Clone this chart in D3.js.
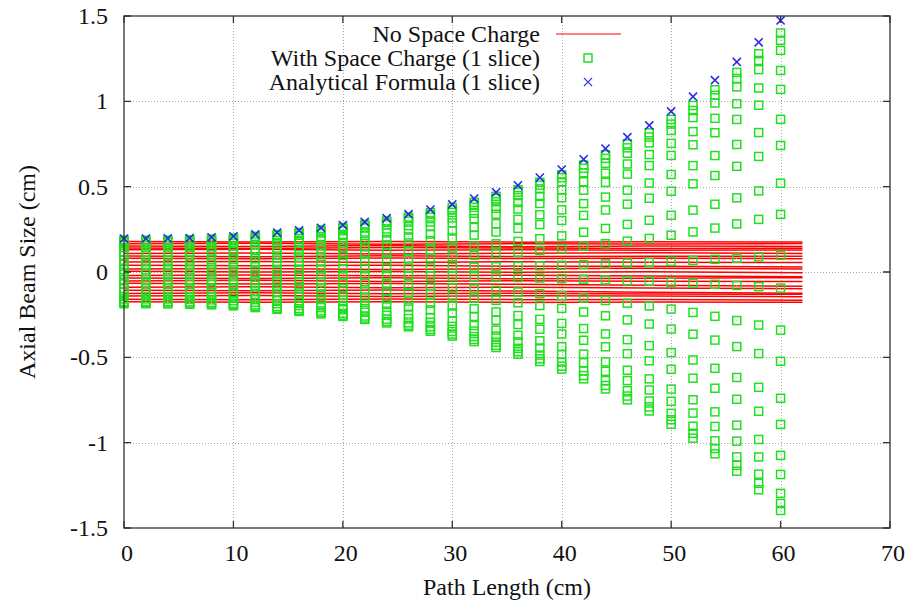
<!DOCTYPE html>
<html>
<head>
<meta charset="utf-8">
<script src="https://cdn.jsdelivr.net/npm/d3@7"></script>
<style>
    body { margin: 0; background: #fff; }
    text { font-family: "Liberation Serif", "Times New Roman", serif; fill: #111; }
</style>
</head>
<body>
<script>

// x ticks and y ticks of the plot
const xTicks = [0, 10, 20, 30, 40, 50, 60, 70];
const yTicks = [-1.5, -1, -0.5, 0, 0.5, 1, 1.5];

// no space charge: sample points along the path and particle positions
const driftX = [0, 12, 24, 36, 48, 62];
const driftY = [
    [0.178, 0.176, 0.179, 0.175, 0.177, 0.176],
    [0.165, 0.168, 0.162, 0.166, 0.164, 0.167],
    [0.152, 0.150, 0.155, 0.148, 0.152, 0.150],
    [0.141, 0.138, 0.143, 0.140, 0.137, 0.139],
    [0.130, 0.134, 0.128, 0.131, 0.127, 0.129],
    [0.109, 0.112, 0.106, 0.110, 0.113, 0.108],
    [0.094, 0.090, 0.095, 0.091, 0.093, 0.092],
    [0.080, 0.078, 0.082, 0.079, 0.081, 0.078],
    [0.058, 0.062, 0.056, 0.060, 0.057, 0.055],
    [0.039, 0.036, 0.040, 0.034, 0.033, 0.030],
    [0.018, 0.020, 0.015, 0.019, 0.022, 0.018],
    [0.004, 0.000, 0.003, -0.002, 0.001, -0.005],
    [-0.020, -0.017, -0.022, -0.019, -0.024, -0.028],
    [-0.035, -0.038, -0.034, -0.040, -0.036, -0.033],
    [-0.052, -0.049, -0.055, -0.051, -0.054, -0.056],
    [-0.066, -0.070, -0.067, -0.072, -0.078, -0.084],
    [-0.090, -0.087, -0.092, -0.089, -0.094, -0.098],
    [-0.107, -0.110, -0.106, -0.112, -0.118, -0.125],
    [-0.126, -0.122, -0.128, -0.124, -0.129, -0.131],
    [-0.140, -0.138, -0.143, -0.139, -0.141, -0.145],
    [-0.160, -0.163, -0.158, -0.162, -0.161, -0.166],
    [-0.175, -0.177, -0.174, -0.178, -0.176, -0.177]
];

// with space charge / analytical formula: one column every 2 cm
const sliceX = [0, 2, 4, 6, 8, 10, 12, 14, 16, 18, 20, 22, 24, 26, 28, 30,
                32, 34, 36, 38, 40, 42, 44, 46, 48, 50, 52, 54, 56, 58, 60];

// analytical beam envelope (blue crosses)
const envelope = [0.196, 0.196, 0.197, 0.199, 0.203, 0.209, 0.220, 0.231,
                  0.244, 0.259, 0.275, 0.293, 0.315, 0.339, 0.366, 0.396,
                  0.430, 0.467, 0.508, 0.553, 0.600, 0.660, 0.723, 0.790,
                  0.859, 0.941, 1.027, 1.124, 1.231, 1.346, 1.474];

// particle positions relative to the envelope (read from the last column)
const particleFrac = [0.950, 0.921, 0.881, 0.801, 0.726, 0.607, 0.503, 0.353,
                      0.229, 0.066, -0.064, -0.231, -0.355, -0.502, -0.606,
                      -0.729, -0.805, -0.880, -0.920, -0.948];

const legendLabels = ["No Space Charge", "With Space Charge (1 slice)",
                      "Analytical Formula (1 slice)"];

window.onload = function() {
    makePlot();
};


/** Draws the beam size plot. */
function makePlot() {

    const width = 917;
    const height = 600;
    const left = 124, right = 890, top = 16, bottom = 528;
    const tickLen = 7;
    const fontSize = "24px";

    const green = "#1fe01f";
    const blue = "#2a2ae8";
    const red = "#ff0000";

    let xScale = d3.scaleLinear()
                   .domain([0, 70])
                   .range([left, right]);

    let yScale = d3.scaleLinear()
                   .domain([-1.5, 1.5])
                   .range([bottom, top]);

    let svg = d3.select("body")
                .append("svg")
                .attr("width", width)
                .attr("height", height);

    // grid lines
    let grid = svg.append("g")
                  .attr("stroke", "#a8a8a8")
                  .attr("stroke-width", 1)
                  .attr("stroke-dasharray", "1,2");

    grid.selectAll(".gx")
        .data(xTicks.slice(1, -1))
        .enter().append("line")
        .attr("x1", d => Math.round(xScale(d)) + 0.5)
        .attr("x2", d => Math.round(xScale(d)) + 0.5)
        .attr("y1", top)
        .attr("y2", bottom);

    grid.selectAll(".gy")
        .data(yTicks.slice(1, -1))
        .enter().append("line")
        .attr("y1", d => Math.round(yScale(d)) + 0.5)
        .attr("y2", d => Math.round(yScale(d)) + 0.5)
        .attr("x1", left)
        .attr("x2", right);

    // no space charge trajectories
    let line = d3.line()
                 .x((d, i) => xScale(driftX[i]))
                 .y(d => yScale(d));

    svg.append("g")
       .selectAll("path")
       .data(driftY)
       .enter().append("path")
       .attr("d", line)
       .attr("fill", "none")
       .attr("stroke", red)
       .attr("stroke-width", 1.5);

    // with space charge particles
    let particles = [];
    sliceX.forEach(function(x, i) {
        particleFrac.forEach(function(f) {
            particles.push([x, f * envelope[i]]);
        });
    });

    let squares = svg.append("g");
    squares.selectAll("rect")
           .data(particles)
           .enter().append("rect")
           .attr("x", d => xScale(d[0]) - 4)
           .attr("y", d => yScale(d[1]) - 4)
           .attr("width", 8)
           .attr("height", 8)
           .attr("fill", "none")
           .attr("stroke", green)
           .attr("stroke-width", 1.5);

    squares.selectAll(".dot")
           .data(particles)
           .enter().append("rect")
           .attr("class", "dot")
           .attr("x", d => xScale(d[0]) - 0.5)
           .attr("y", d => yScale(d[1]) - 0.5)
           .attr("width", 1)
           .attr("height", 1)
           .attr("fill", "#8be88b");

    // analytical formula crosses
    let cross = d3.symbol().type(d3.symbolX).size(45);
    svg.append("g")
       .selectAll("path")
       .data(sliceX)
       .enter().append("path")
       .attr("transform", (d, i) => "translate(" + xScale(d) + "," + yScale(envelope[i]) + ")")
       .attr("d", cross)
       .attr("fill", "none")
       .attr("stroke", blue)
       .attr("stroke-width", 1.6);

    // frame with mirrored inward ticks
    let frame = svg.append("g")
                   .attr("stroke", "#333")
                   .attr("stroke-width", 1.3);

    frame.append("rect")
         .attr("x", left)
         .attr("y", top)
         .attr("width", right - left)
         .attr("height", bottom - top)
         .attr("fill", "none");

    frame.selectAll(".tx")
         .data(xTicks)
         .enter().append("path")
         .attr("d", d => "M" + xScale(d) + "," + bottom + "v" + (-tickLen) +
                         "M" + xScale(d) + "," + top + "v" + tickLen);

    frame.selectAll(".ty")
         .data(yTicks)
         .enter().append("path")
         .attr("d", d => "M" + left + "," + yScale(d) + "h" + tickLen +
                         "M" + right + "," + yScale(d) + "h" + (-tickLen));

    // tick labels
    svg.selectAll(".xlabel")
       .data(xTicks)
       .enter().append("text")
       .attr("x", d => xScale(d) + 3)
       .attr("y", 561)
       .attr("text-anchor", "middle")
       .style("font-size", fontSize)
       .text(d => d);

    svg.selectAll(".ylabel")
       .data(yTicks)
       .enter().append("text")
       .attr("x", 108)
       .attr("y", d => yScale(d) + 8)
       .attr("text-anchor", "end")
       .style("font-size", fontSize)
       .text(d => d);

    // axis titles
    svg.append("text")
       .attr("x", (left + right) / 2)
       .attr("y", 595)
       .attr("text-anchor", "middle")
       .style("font-size", fontSize)
       .text("Path Length (cm)");

    svg.append("text")
       .attr("transform", "translate(35," + yScale(0) + ") rotate(-90)")
       .attr("text-anchor", "middle")
       .style("font-size", fontSize)
       .text("Axial Beam Size (cm)");

    // legend
    let legendY = [34, 58, 82];

    svg.selectAll(".legend")
       .data(legendLabels)
       .enter().append("text")
       .attr("x", 540)
       .attr("y", (d, i) => legendY[i] + 8)
       .attr("text-anchor", "end")
       .style("font-size", fontSize)
       .text(d => d);

    svg.append("line")
       .attr("x1", 556)
       .attr("x2", 621)
       .attr("y1", legendY[0])
       .attr("y2", legendY[0])
       .attr("stroke", red)
       .attr("stroke-width", 1);

    svg.append("rect")
       .attr("x", 588 - 4)
       .attr("y", legendY[1] - 4)
       .attr("width", 8)
       .attr("height", 8)
       .attr("fill", "none")
       .attr("stroke", green)
       .attr("stroke-width", 1.5);

    svg.append("path")
       .attr("transform", "translate(588," + legendY[2] + ")")
       .attr("d", cross)
       .attr("fill", "none")
       .attr("stroke", blue)
       .attr("stroke-width", 1.2);
}
</script>
</body>
</html>
